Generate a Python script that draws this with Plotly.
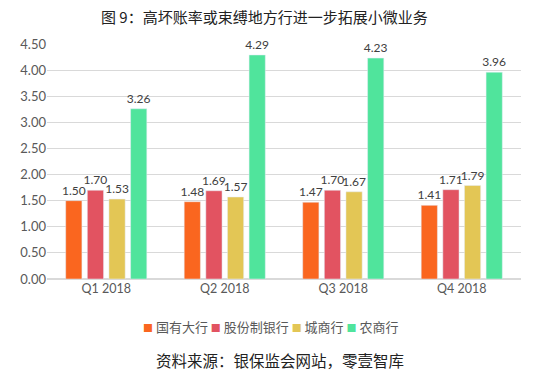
import plotly.graph_objects as go

categories = ["Q1 2018", "Q2 2018", "Q3 2018", "Q4 2018"]
series_names = ["国有大行", "股份制银行", "城商行", "农商行"]
guoyou = [1.50, 1.48, 1.47, 1.41]
gufen = [1.70, 1.69, 1.70, 1.71]
chengshang = [1.53, 1.57, 1.67, 1.79]
nongshang = [3.26, 4.29, 4.23, 3.96]
y_ticks = [0, 0.5, 1.0, 1.5, 2.0, 2.5, 3.0, 3.5, 4.0, 4.5]

colors = ["#FA661F", "#E25361", "#E3C655", "#50E49C"]
series = [guoyou, gufen, chengshang, nongshang]

FONT = "Noto Sans CJK SC"
NUMF = "Lato"
fig = go.Figure()
for name, vals, c in zip(series_names, series, colors):
    fig.add_trace(go.Bar(
        x=categories, y=vals, name=name, marker_color=c,
        text=[f"{v:.2f}" for v in vals], textposition="outside",
        constraintext="none",
        textfont=dict(size=12, color="#404040", family=NUMF),
        cliponaxis=False,
    ))

fig.update_layout(
    width=552, height=379,
    margin=dict(l=47, r=31, t=44, b=100),
    paper_bgcolor="white", plot_bgcolor="white",
    barmode="group", bargap=0.27, bargroupgap=0.25,
    showlegend=False,
    font=dict(family=NUMF, color="#595959"),
)
fig.update_yaxes(range=[0, 4.5], tickvals=y_ticks, tickformat=".2f",
                 showgrid=True, gridcolor="#D9D9D9", gridwidth=1,
                 zeroline=True, zerolinecolor="#D9D9D9",
                 tickfont=dict(size=13, color="#595959", family=NUMF), ticks="", ticklen=0)
fig.update_xaxes(tickfont=dict(size=12.5, color="#595959", family=NUMF), showline=False, ticks="")

legend_text = " ".join(
    f"<span style='color:{c};font-size:10px'>■</span> {n}" for n, c in zip(series_names, colors)
)
fig.add_annotation(text=legend_text, xref="paper", yref="paper",
                   x=(270 - 47) / 474, y=-(326 - 279) / 235, xanchor="center", yanchor="middle",
                   showarrow=False, font=dict(size=13, color="#595959", family=FONT))

fig.add_annotation(text="图 9：高坏账率或束缚地方行进一步拓展小微业务", xref="paper", yref="paper",
                   x=(264 - 47) / 474, y=1 + (44 - 16) / 235, xanchor="center", yanchor="middle",
                   showarrow=False, font=dict(size=15, color="#222222", family=FONT))
fig.add_annotation(text="资料来源：银保监会网站，零壹智库", xref="paper", yref="paper",
                   x=(280 - 47) / 474, y=-(360 - 279) / 235, xanchor="center", yanchor="middle",
                   showarrow=False, font=dict(size=15.5, color="#222222", family=FONT))

fig.write_html("out.html", config={"displayModeBar": False},
               post_script="document.body.style.margin='0';")
